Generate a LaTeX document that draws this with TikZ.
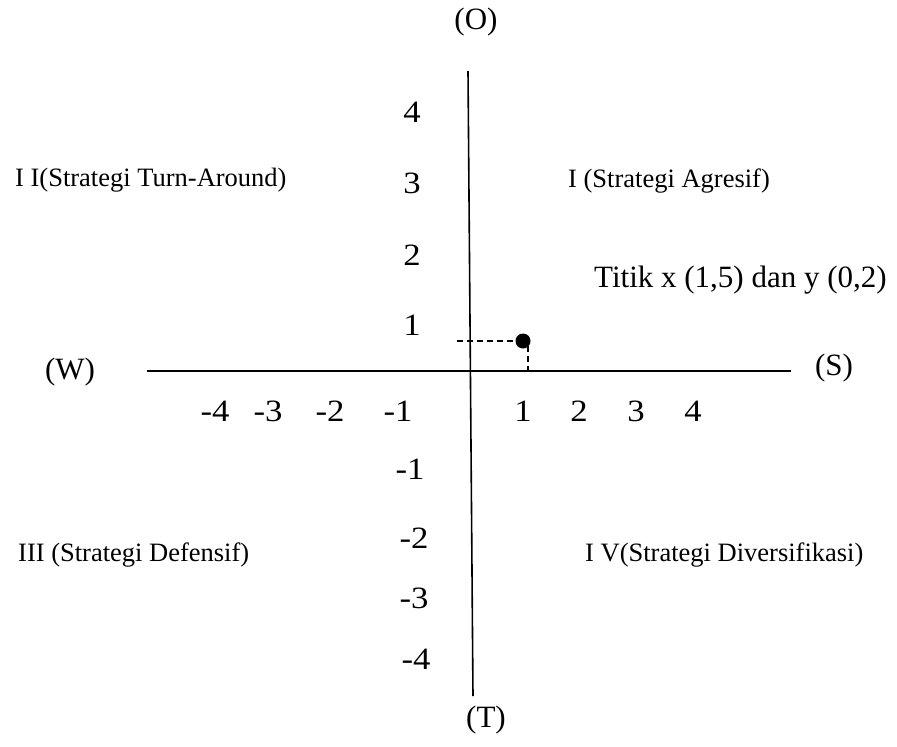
\documentclass[tikz,border=0pt]{standalone}
\usepackage{graphicx}
\usepackage{fontspec}
\setmainfont{Liberation Serif}
\newcommand\nm[1]{\scalebox{1.12}[1]{#1}}
\begin{document}
\begin{tikzpicture}[x=1pt,y=-1pt,
  lbl/.style={inner sep=0pt,anchor=west,font=\fontsize{26.5}{30}\selectfont},
  num/.style={inner sep=0pt,font=\fontsize{31}{35}\selectfont},
  dirlbl/.style={inner sep=0pt,font=\fontsize{31}{35}\selectfont},
  big/.style={inner sep=0pt,anchor=west,font=\fontsize{31}{36}\selectfont},
  axis/.style={line width=1.6pt},
  guide/.style={line width=1.1pt,dash pattern=on 6pt off 4pt}]
\useasboundingbox (0,0) rectangle (897,747);
% axes
\coordinate (xl) at (147,371);
\coordinate (xr) at (791,371);
\coordinate (yt) at (468,71);
\coordinate (yb) at (473,696);
\draw[axis] (xl) -- (xr);
\draw[axis] (yt) -- (yb);
% direction labels
\node[dirlbl] (O) at (476,22) {(O)};
\node[dirlbl] (T) at (486,720) {(T)};
\node[dirlbl] (W) at (70,372) {(W)};
\node[dirlbl] (S) at (834,368) {(S)};
% y numbers
\node[num] (y4) at (412,112) {\nm{4}};
\node[num] (y3) at (412,183) {\nm{3}};
\node[num] (y2) at (412,255) {\nm{2}};
\node[num] (y1) at (412,325) {\nm{1}};
\node[num] (ym1) at (410,469) {\nm{-1}};
\node[num] (ym2) at (414,538) {\nm{-2}};
\node[num] (ym3) at (414,598) {\nm{-3}};
\node[num] (ym4) at (416,659) {\nm{-4}};
% x numbers
\node[num] (xm4) at (215,411) {\nm{-4}};
\node[num] (xm3) at (268,411) {\nm{-3}};
\node[num] (xm2) at (330,411) {\nm{-2}};
\node[num] (xm1) at (398,411) {\nm{-1}};
\node[num] (x1) at (523,411) {\nm{1}};
\node[num] (x2) at (579,411) {\nm{2}};
\node[num] (x3) at (636,411) {\nm{3}};
\node[num] (x4) at (693,411) {\nm{4}};
% quadrant labels
\node[lbl] (q2) at (15,180) {I I(Strategi Turn-Around)};
\node[lbl] (q1) at (568,181) {I (Strategi Agresif)};
\node[lbl] (q3) at (18,555) {III (Strategi Defensif)};
\node[lbl] (q4) at (585,555) {I V(Strategi Diversifikasi)};
\node[big] (pt) at (594,280) {Titik x (1,5) dan y (0,2)};
% point
\node[circle,fill=black,inner sep=0pt,minimum size=15pt] (dot) at (523,341) {};
\coordinate (dh) at (457,341);
\coordinate (dvtop) at (528,336);
\coordinate (dvbot) at (528,371);
\draw[guide] (dh) -- (dot);
\draw[guide] (dvtop) -- (dvbot);
\end{tikzpicture}
\end{document}
